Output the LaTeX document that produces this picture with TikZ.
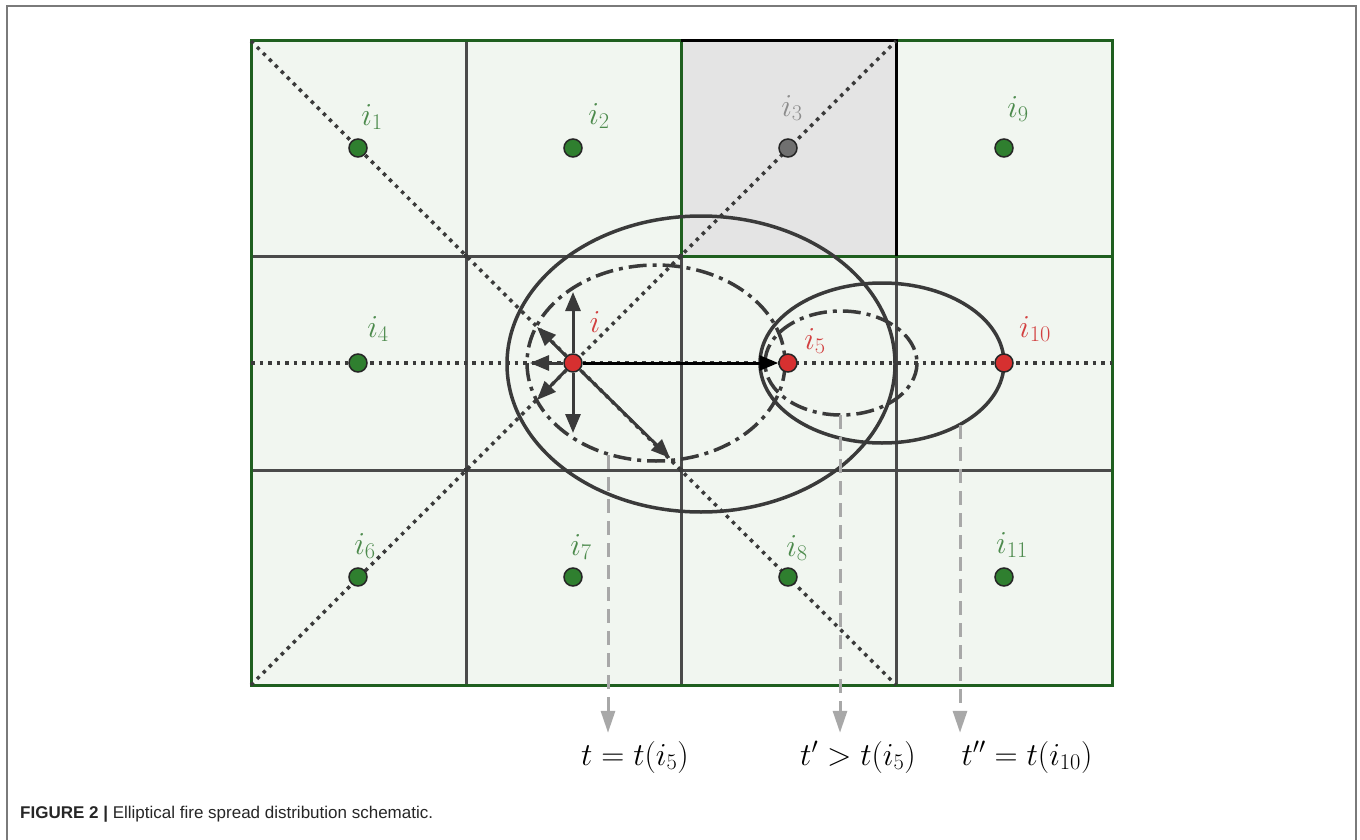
\RequirePackage{fix-cm}
\documentclass[tikz,border=0pt]{standalone}
\usepackage{fontspec}
\setsansfont{Liberation Sans}
\usetikzlibrary{arrows.meta, calc}

\definecolor{cellgreen}{HTML}{F1F6F0}
\definecolor{cellgray}{HTML}{E4E4E4}
\definecolor{edgegreen}{HTML}{1F5F1F}
\definecolor{gridgray}{HTML}{4A4A4A}
\definecolor{inkgray}{HTML}{3A3A3A}
\definecolor{dotgreen}{HTML}{2F7F2F}
\definecolor{dotred}{HTML}{D63030}
\definecolor{dotgray}{HTML}{707070}
\definecolor{lblgreen}{HTML}{4C8A4C}
\definecolor{lblred}{HTML}{D24040}
\definecolor{lblgray}{HTML}{8C8C8C}
\definecolor{timegray}{HTML}{A8A8A8}
\definecolor{framegray}{HTML}{7A7A7A}

\tikzset{
  gridline/.style={draw=gridgray, line width=3pt},
  border/.style={draw=edgegreen, line width=3pt},
  diag/.style={draw=inkgray, line width=3.5pt, dash pattern=on 3.5pt off 5pt},
  front/.style={draw=inkgray, line width=3.5pt},
  frontdd/.style={draw=inkgray, line width=3.5pt, dash pattern=on 18pt off 6pt on 4pt off 6pt},
  cellpt/.style={circle, draw=black!85, line width=1.5pt, minimum size=18pt, inner sep=0pt},
  greenpt/.style={cellpt, fill=dotgreen},
  redpt/.style={cellpt, fill=dotred},
  graypt/.style={cellpt, fill=dotgray},
  cornerpt/.style={circle, fill=inkgray, minimum size=5pt, inner sep=0pt},
  mathlbl/.style={font=\fontsize{32}{36}\selectfont, inner sep=0pt},
  glabel/.style={mathlbl, text=lblgreen},
  rlabel/.style={mathlbl, text=lblred},
  hlabel/.style={mathlbl, text=lblgray},
  tlabel/.style={mathlbl, text=black, inner sep=4pt},
  spread/.style={-{Triangle[length=19pt, width=15pt]}, draw=inkgray, line width=3pt},
  tarr/.style={-{Triangle[length=22pt, width=14pt]}, draw=timegray, line width=3pt,
    dash pattern=on 14pt off 8pt, shorten >=4pt},
}

\begin{document}
\begin{tikzpicture}[x=1pt, y=-1pt]
  \useasboundingbox (0,0) rectangle (1360,840);

  % frame
  \draw[framegray, line width=2pt] (7,840) -- (7,6) -- (1356,6) -- (1356,840);

  % cells
  \fill[cellgreen] (251,41) rectangle (1112,685);
  \fill[cellgray] (681,41) rectangle (896,256);
  \foreach \x in {466,681,896}
    \draw[gridline] (\x,256) -- (\x,685);
  \draw[gridline] (466,41) -- (466,256);
  \draw[gridline] (251,256) -- (681,256);
  \draw[gridline] (251,470) -- (1112,470);
  \draw[border] (251,41) rectangle (1112,685);
  \draw[border] (681,41) rectangle (1112,256);
  \draw[gridline, draw=black] (681,41) -- (896,41) -- (896,256);

  % corners of the grid
  \coordinate (nw) at (251,41);
  \coordinate (sw) at (251,685);
  \coordinate (ne3) at (896,41);
  \coordinate (se3) at (896,685);
  \coordinate (w) at (251,363);
  \coordinate (e) at (1112,363);

  % directions
  \draw[diag] (nw) -- (se3);
  \draw[diag] (sw) -- (ne3);
  \draw[diag] (w) -- (e);
  \foreach \p in {(466,256),(466,470),(681,256),(681,470)}
    \node[cornerpt] at \p {};

  % fire fronts
  \draw[front] (701,364) ellipse [x radius=194, y radius=148];
  \draw[frontdd] (656,363) ellipse [x radius=129, y radius=98];
  \draw[frontdd] (841,363) ellipse [x radius=76, y radius=52];
  \draw[front] (882,363) ellipse [x radius=122, y radius=80];

  % cell centres
  \node[greenpt] (i1) at (358,148) {};
  \node[greenpt] (i2) at (573,148) {};
  \node[graypt] (i3) at (788,148) {};
  \node[greenpt] (i9) at (1004,148) {};
  \node[greenpt] (i4) at (358,363) {};
  \node[redpt] (i) at (573,363) {};
  \node[redpt] (i5) at (788,363) {};
  \node[redpt] (i10) at (1004,363) {};
  \node[greenpt] (i6) at (358,577) {};
  \node[greenpt] (i7) at (573,577) {};
  \node[greenpt] (i8) at (788,577) {};
  \node[greenpt] (i11) at (1004,577) {};

  \node[glabel] (l1) at ($(i1)+(14,-31)$) {$i_1$};
  \node[glabel] (l2) at ($(i2)+(26,-32)$) {$i_2$};
  \node[hlabel] (l3) at ($(i3)+(4,-40)$) {$i_3$};
  \node[glabel] (l9) at ($(i9)+(14,-39)$) {$i_9$};
  \node[glabel] (l4) at ($(i4)+(20,-34)$) {$i_4$};
  \node[rlabel] (li) at ($(i)+(22,-41)$) {$i$};
  \node[rlabel] (l5) at ($(i5)+(27,-22)$) {$i_5$};
  \node[rlabel] (l10) at ($(i10)+(31,-34)$) {$i_{10}$};
  \node[glabel] (l6) at ($(i6)+(7,-31)$) {$i_6$};
  \node[glabel] (l7) at ($(i7)+(8,-30)$) {$i_7$};
  \node[glabel] (l8) at ($(i8)+(9,-29)$) {$i_8$};
  \node[glabel] (l11) at ($(i11)+(8,-32)$) {$i_{11}$};

  % spread from i
  \coordinate (rN) at (573,292);
  \coordinate (rS) at (573,433);
  \coordinate (rW) at (530,363);
  \coordinate (rNW) at (537,327);
  \coordinate (rSW) at (537,400);
  \coordinate (rSE) at (670,458);
  \foreach \r in {rN,rS,rW,rNW,rSW,rSE}
    \draw[spread] (i) -- (\r);
  \draw[spread, draw=black] (i) -- (i5);

  % times
  \node[tlabel] (tt1) at (635,757) {$t=t(i_5)$};
  \node[tlabel] (tt2) at (858,757) {$t'>t(i_5)$};
  \node[tlabel] (tt3) at (1027,757) {$t''=t(i_{10})$};
  \coordinate (f1) at (608,455);
  \coordinate (f2) at (840,415);
  \coordinate (f3) at (960,425);
  \draw[tarr] (f1) -- (f1 |- tt1.north);
  \draw[tarr] (f2) -- (f2 |- tt2.north);
  \draw[tarr] (f3) -- (f3 |- tt3.north);

  % caption
  \node[anchor=base west, inner sep=0pt, text=black!85,
    font=\sffamily\fontsize{17}{20}\selectfont] (cap) at (20,818)
    {\textbf{FIGURE 2 |} Elliptical fire spread distribution schematic.};
\end{tikzpicture}
\end{document}
